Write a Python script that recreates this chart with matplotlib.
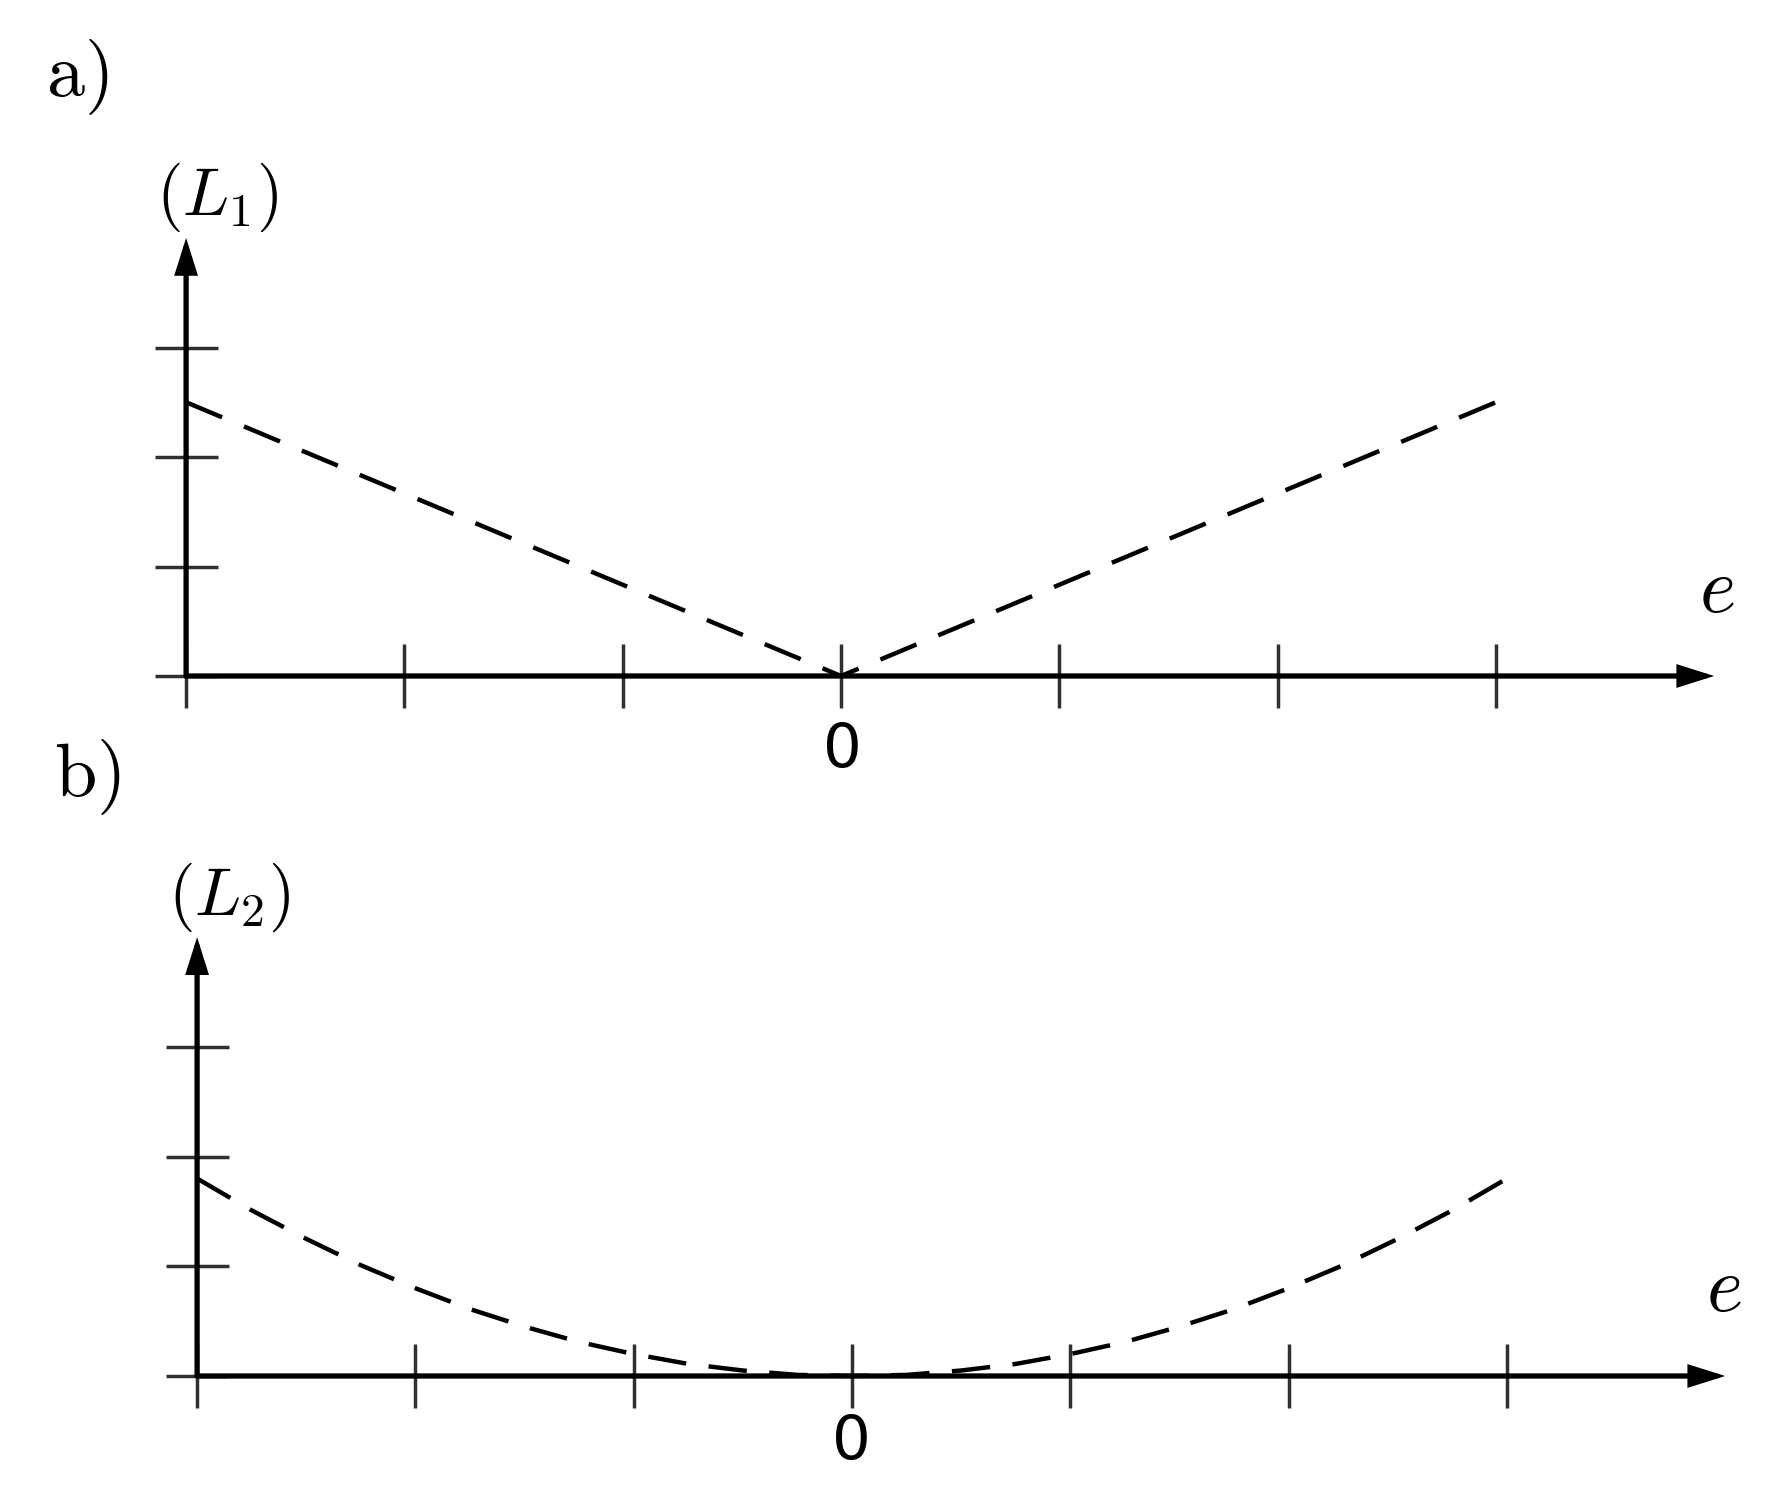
import matplotlib
matplotlib.use("Agg")
import matplotlib.pyplot as plt

plt.rcParams['mathtext.fontset'] = 'cm'

# ---- data ----
x_ticks = [-3, -2, -1, 0, 1, 2, 3]
y_ticks = [0, 1, 2, 3]
zero_label = "0"

e_a = [-3, 0, 3]
L1 = [2.5, 0, 2.5]

e_b = [-3, -2.75, -2.5, -2.25, -2, -1.75, -1.5, -1.25, -1, -0.75, -0.5, -0.25, 0,
       0.25, 0.5, 0.75, 1, 1.25, 1.5, 1.75, 2, 2.25, 2.5, 2.75, 3]
L2 = [1.8, 1.51, 1.25, 1.01, 0.8, 0.61, 0.45, 0.31, 0.2, 0.11, 0.05, 0.01, 0,
      0.01, 0.05, 0.11, 0.2, 0.31, 0.45, 0.61, 0.8, 1.01, 1.25, 1.51, 1.8]

W, H = 1768, 1488
fig = plt.figure(figsize=(W / 100, H / 100), dpi=100)
fig.patch.set_facecolor('white')


def make_ax(x0, y0, sx, sy, top, bot):
    ax = fig.add_axes([0, 1 - bot / H, 1, (bot - top) / H])
    ax.set_xlim(-x0 / sx, (W - x0) / sx)
    ax.set_ylim((y0 - bot) / sy, (y0 - top) / sy)
    ax.axis('off')
    ax.patch.set_alpha(0)
    return ax


def draw_panel(ax, sx, sy, xs, ys, letter, ylabel, letter_xy, ylabel_xy, e_xy, zero_xy, dash):
    xmin = x_ticks[0]
    # tick marks
    th = 32 / sy
    tw = 31.5 / sx
    for t in x_ticks:
        ax.plot([t, t], [-th, th], color='#303030', lw=2.5, solid_capstyle='butt', zorder=2)
    for t in y_ticks:
        ax.plot([xmin - tw, xmin + tw], [t, t], color='#303030', lw=2.5, solid_capstyle='butt', zorder=2)
    # axes with arrows
    arr = dict(arrowstyle='-|>,head_length=0.95,head_width=0.3', lw=3.8, color='black',
               mutation_scale=20, shrinkA=0, shrinkB=0, joinstyle='miter')
    ax.annotate('', xy=(4.0, 0), xytext=(xmin, 0), arrowprops=arr, zorder=3)
    ax.annotate('', xy=(xmin, 4.0), xytext=(xmin, 0), arrowprops=arr, zorder=3)
    # curve
    ax.plot(xs, ys, color='black', lw=3.2, dashes=dash, solid_capstyle='butt',
            dash_capstyle='butt', zorder=4, clip_on=False)
    # texts
    ax.text(*letter_xy, letter, fontsize=55, ha='center', va='center')
    ax.text(*ylabel_xy, ylabel, fontsize=49, ha='center', va='center')
    ax.text(*e_xy, r'$e$', fontsize=56, ha='center', va='center')
    ax.text(*zero_xy, zero_label, fontsize=44, ha='center', va='center', family='DejaVu Sans')


def to_data(px, py, x0, y0, sx, sy):
    return ((px - x0) / sx, (y0 - py) / sy)


# panel a
xa0, ya0, sxa, sya = 841, 676, 218.3, 109.5
axa = make_ax(xa0, ya0, sxa, sya, 0, 744)
draw_panel(axa, sxa, sya, e_a, L1, r'$\mathrm{a)}$', r'$(L_1)$',
           to_data(77, 77, xa0, ya0, sxa, sya),
           to_data(217, 197, xa0, ya0, sxa, sya),
           to_data(1717, 590, xa0, ya0, sxa, sya),
           to_data(842, 750, xa0, ya0, sxa, sya),
           (8.78, 5.33))

# panel b
xb0, yb0, sxb, syb = 852, 1376, 218.3, 109.7
axb = make_ax(xb0, yb0, sxb, syb, 744, H)
draw_panel(axb, sxb, syb, e_b, L2, r'$\mathrm{b)}$', r'$(L_2)$',
           to_data(87, 777, xb0, yb0, sxb, syb),
           to_data(229, 897, xb0, yb0, sxb, syb),
           to_data(1724, 1289, xb0, yb0, sxb, syb),
           to_data(851, 1442, xb0, yb0, sxb, syb),
           (8.66, 5.06))

fig.savefig('out.png', dpi=100, facecolor='white')
